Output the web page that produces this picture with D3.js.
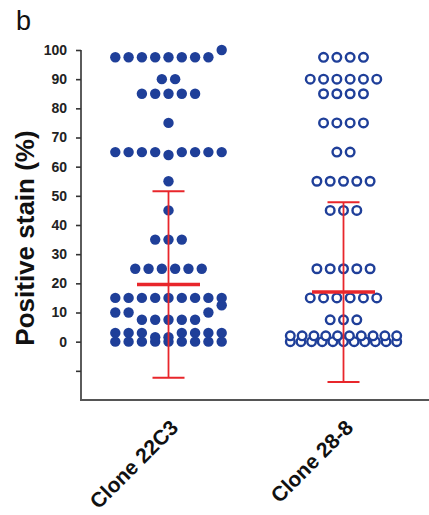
<!DOCTYPE html>
<html>
<head>
<meta charset="utf-8">
<script src="https://cdn.jsdelivr.net/npm/d3@7"></script>
<style>
  body { margin:0; background:#fff; }
  svg text { font-family: "Liberation Sans", Arial, Helvetica, sans-serif; }
  .axis text { font-weight:bold; font-size:14px; fill:#222; }
  .axis path, .axis line { stroke:#333; stroke-width:1.6; }
</style>
</head>
<body>
<div id="chart"></div>
<script>
// Scatter dot plot, Prism style — positive stain per clone
const CLONES = ["Clone 22C3", "Clone 28-8"];

// each band = one horizontal row of dots, as [value, count] pairs
const bands22C3 = [
  [[0, 9]],
  [[1.5, 2], [3, 7]],
  [[7.5, 5], [10, 3], [12.5, 1]],
  [[15, 9]],
  [[25, 6]],
  [[35, 3]],
  [[45, 1]],
  [[55, 1]],
  [[64, 1], [65, 8]],
  [[75, 1]],
  [[85, 5]],
  [[90, 2]],
  [[97.5, 8], [100, 1]]
];
const bands288 = [
  [[0, 11]],
  [[2, 10]],
  [[7.5, 3]],
  [[15, 6]],
  [[25, 5]],
  [[45, 3]],
  [[55, 5]],
  [[65, 2]],
  [[75, 4]],
  [[85, 4]],
  [[90, 6]],
  [[97.5, 4]]
];
const MEANS = [19.6, 17];
const SDS   = [32, 30.8];
const Y_TICKS = [-10, 0, 10, 20, 30, 40, 50, 60, 70, 80, 90, 100];

const totalW = 429, totalH = 515;
const STEP = 13.3, MAX_SLOTS = 9;

const svg = d3.select("#chart").append("svg").attr("width", totalW).attr("height", totalH);

const x = d3.scalePoint().domain(CLONES).range([81, 431]).padding(0.5);
const y = d3.scaleLinear().domain([-20, 100]).range([400, 50]);

// lay a band out centred on the column, lowest values in the middle, spreading out left first
function layoutBand(pairs, cx) {
  const vals = [];
  pairs.forEach(([v, n]) => { for (let i = 0; i < n; i++) vals.push(v); });
  vals.sort((a, b) => a - b);
  const n = vals.length;
  const sp = n > MAX_SLOTS ? STEP * (MAX_SLOTS - 1) / (n - 1) : STEP;
  const offs = d3.range(n).map(i => i - (n - 1) / 2)
    .sort((a, b) => Math.abs(a) - Math.abs(b) || a - b);
  return vals.map((v, i) => ({ value: v, x: cx + offs[i] * sp }));
}

const pts22 = bands22C3.flatMap(b => layoutBand(b, x(CLONES[0])));
const pts28 = bands288.flatMap(b => layoutBand(b, x(CLONES[1])));

const BLUE = "#1f3f99", RED = "#e8262b";

svg.append("g").selectAll("circle").data(pts22).enter().append("circle")
  .attr("cx", d => d.x).attr("cy", d => y(d.value)).attr("r", 5.2)
  .attr("fill", BLUE);

svg.append("g").selectAll("circle").data(pts28).enter().append("circle")
  .attr("cx", d => d.x).attr("cy", d => y(d.value)).attr("r", 4.3)
  .attr("fill", "#fff").attr("stroke", BLUE).attr("stroke-width", 2.4);

// mean ± SD
const bars = svg.append("g");
CLONES.forEach((c, i) => {
  const cx = x(c), m = MEANS[i], s = SDS[i];
  bars.append("line").attr("x1", cx).attr("x2", cx).attr("y1", y(m + s)).attr("y2", y(m - s))
    .attr("stroke", RED).attr("stroke-width", 1.8);
  [m + s, m - s].forEach(v => {
    bars.append("line").attr("x1", cx - 16).attr("x2", cx + 16).attr("y1", y(v)).attr("y2", y(v))
      .attr("stroke", RED).attr("stroke-width", 2);
  });
  bars.append("line").attr("x1", cx - 31.5).attr("x2", cx + 31.5).attr("y1", y(m)).attr("y2", y(m))
    .attr("stroke", RED).attr("stroke-width", 3.5);
});

// axes
svg.append("g").attr("class", "axis").attr("transform", "translate(81,0)")
  .call(d3.axisLeft(y).tickValues(Y_TICKS).tickSize(5).tickPadding(9).tickSizeOuter(0)
    .tickFormat(d => d < 0 ? "" : d))
  .call(g => g.select(".domain").attr("d", `M0,${y(100)}V${y(-20)}`));

svg.append("line").attr("x1", 80).attr("x2", 429).attr("y1", y(-20)).attr("y2", y(-20))
  .attr("stroke", "#555").attr("stroke-width", 2);

CLONES.forEach(c => {
  svg.append("text").attr("transform", `translate(${x(c) + 11},429) rotate(-45)`)
    .attr("text-anchor", "end").attr("font-weight", "bold").attr("font-size", 21)
    .attr("fill", "#111").text(c);
});

svg.append("text").attr("transform", "translate(34,238) rotate(-90)")
  .attr("text-anchor", "middle").attr("font-weight", "bold").attr("font-size", 26)
  .attr("fill", "#111").text("Positive stain (%)");

svg.append("text").attr("x", 16).attr("y", 30).attr("font-size", 27).attr("fill", "#111").text("b");
</script>
</body>
</html>
